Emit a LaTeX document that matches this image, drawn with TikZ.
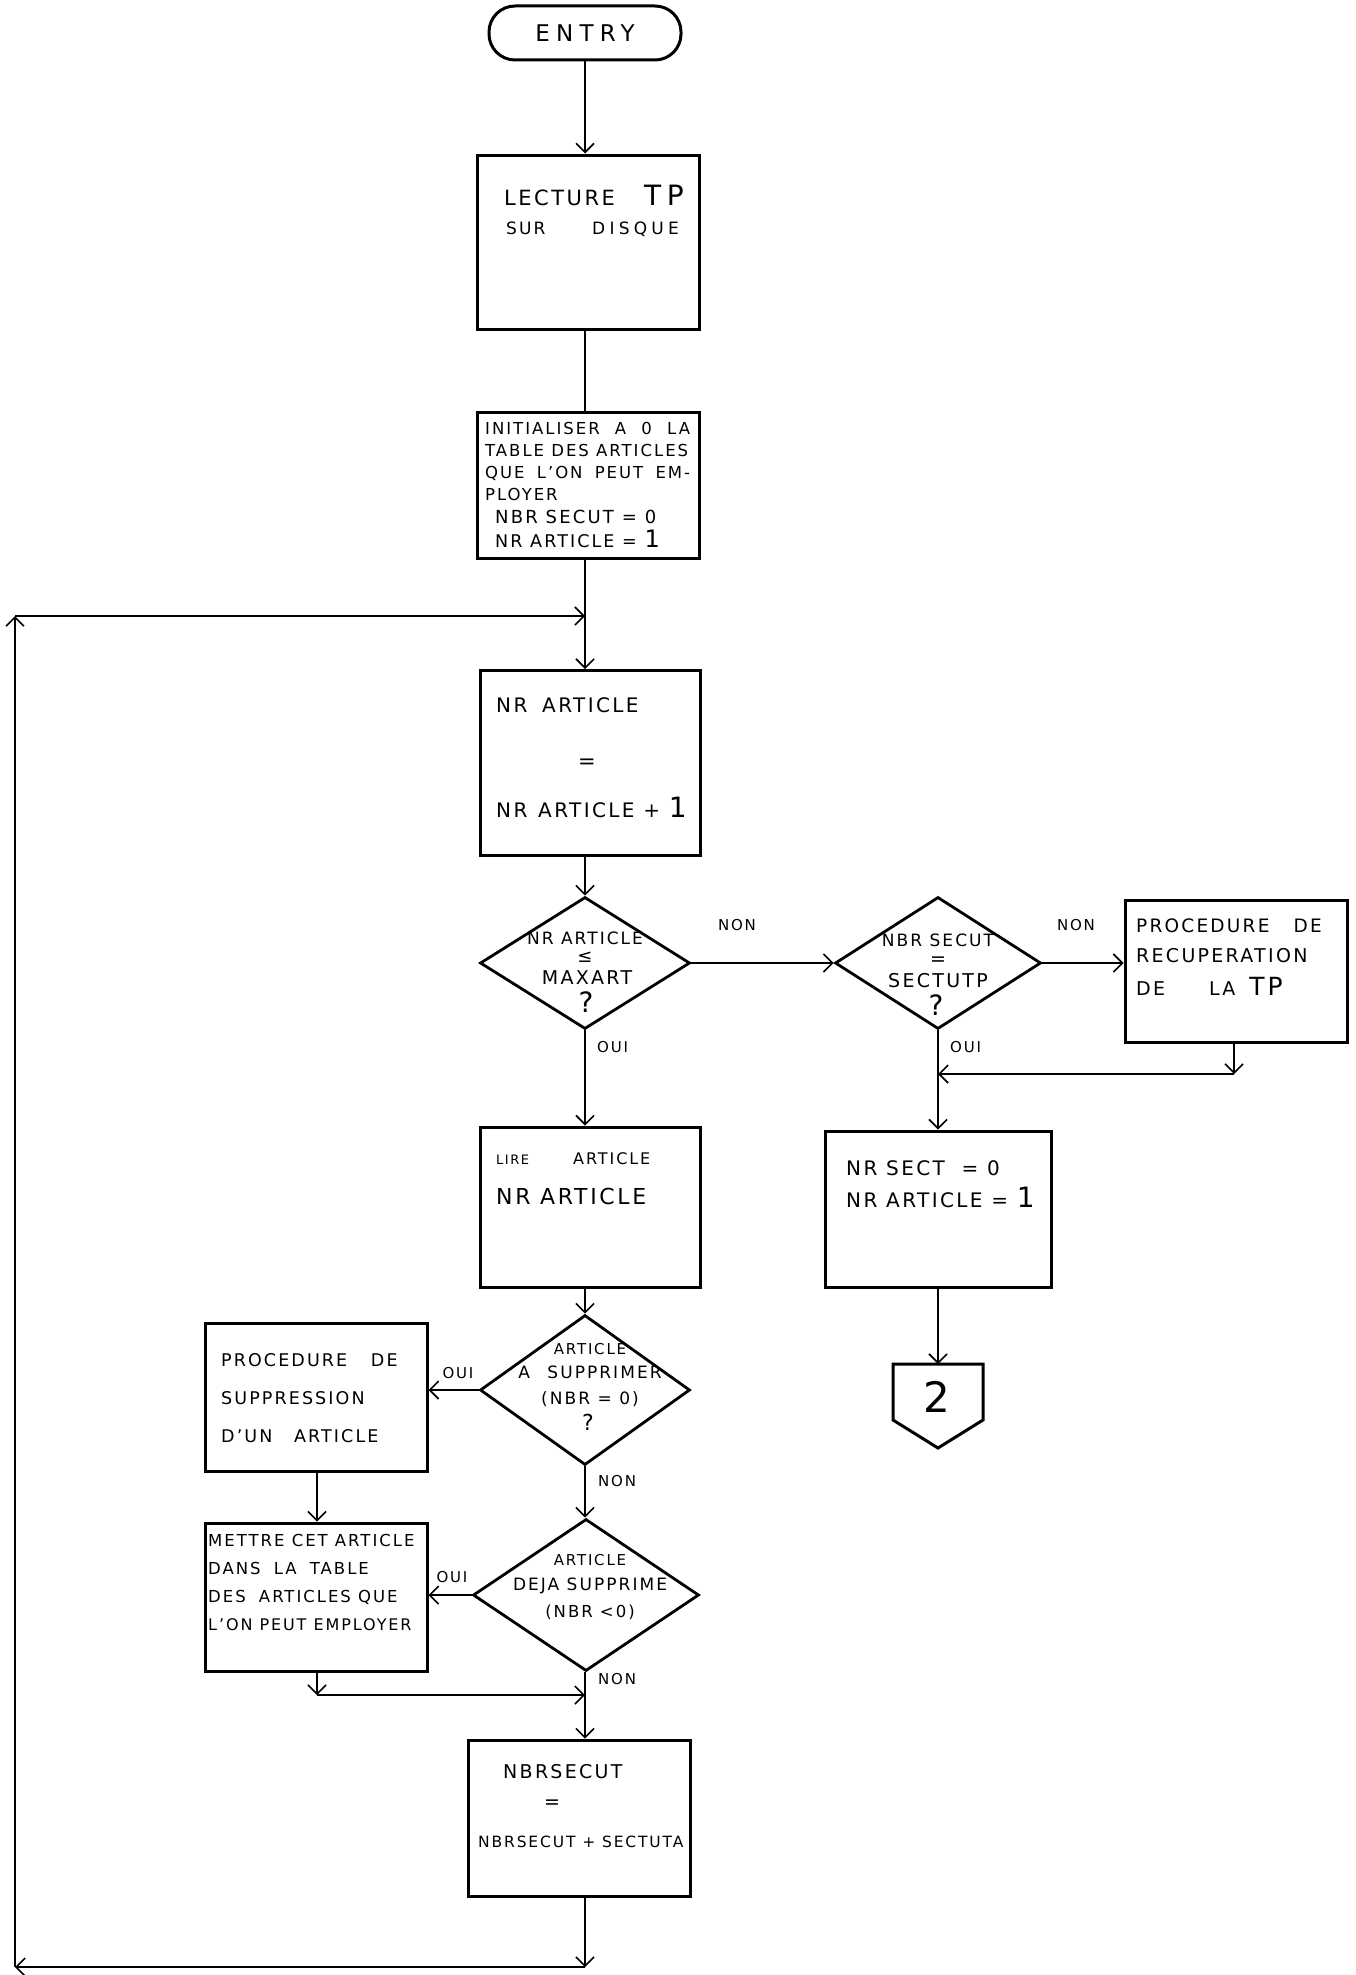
\documentclass[tikz,border=0pt]{standalone}
\usepackage{fontspec}
\setmainfont{DejaVu Sans}[LetterSpace=12]
\usetikzlibrary{shapes.geometric,arrows.meta,calc}
\newcommand{\fs}[1]{\fontsize{#1}{#1}\selectfont}
\newcommand{\lsp}[2]{{\addfontfeatures{LetterSpace=#1}#2}}
\begin{document}
\begin{tikzpicture}[x=1pt,y=-1pt,
  box/.style={draw, line width=3pt, rectangle, inner sep=0pt},
  dia/.style={draw, line width=2.8pt, diamond, inner sep=0pt, aspect=1},
  term/.style={draw, line width=3pt, rectangle, rounded corners=26pt, inner sep=0pt},
  arr/.style={line width=1.6pt, -{Straight Barb[length=9pt,width=18pt,line width=1.6pt]}},
  ln/.style={line width=1.6pt},
  tw/.style={anchor=base west, inner sep=0pt},
  tc/.style={anchor=base, inner sep=0pt},
]
\useasboundingbox (0,0) rectangle (1356,1975);

% ---- shapes
\node[term, minimum width=192pt, minimum height=54pt, font=\fs{23}] (entry) at (585,33) {\lsp{27}{ENTRY}};
\node[box, minimum width=222pt, minimum height=174pt] (lect) at (588,242) {};
\node[box, minimum width=222pt, minimum height=146pt] (init) at (588,485) {};
\node[box, minimum width=220pt, minimum height=185pt] (nra) at (590,763) {};
\node[dia, minimum width=210pt, minimum height=132pt] (d1) at (585,963) {};
\node[dia, minimum width=206pt, minimum height=132pt] (d2) at (938,963) {};
\node[box, minimum width=222pt, minimum height=142pt] (recup) at (1236,971) {};
\node[box, minimum width=226pt, minimum height=156pt] (nrsect) at (938,1209) {};
\node[box, minimum width=220pt, minimum height=160pt] (lire) at (590,1207) {};
\node[dia, minimum width=210pt, minimum height=150pt] (d3) at (585,1390) {};
\node[box, minimum width=222pt, minimum height=148pt] (supp) at (316,1397) {};
\node[box, minimum width=222pt, minimum height=148pt] (mettre) at (316,1597) {};
\node[dia, minimum width=226pt, minimum height=152pt] (d4) at (586,1595) {};
\node[box, minimum width=222pt, minimum height=156pt] (nbrs) at (579,1818) {};
\coordinate (p2) at (938,1364);
\draw[line width=3pt] (893,1364) -- (983,1364) -- (983,1420) -- (938,1448) -- (893,1420) -- cycle;
\node[tc, font=\fs{42}] (two) at (937,1412) {2};

% ---- texts
\node[tw, font=\fs{21}] (tl1) at (504,205) {LECTURE};
\node[tw, font=\fs{28}] (tl1b) at (644,205) {\lsp{20}{TP}};
\node[tw, font=\fs{17}] (tl2) at (506,234) {SUR};
\node[tw, font=\fs{17}] (tl2b) at (592,234) {\lsp{25}{DISQUE}};

\node[tw, font=\fs{16.5}] (ti1) at (485,434) {INITIALISER\hspace{8pt} A\hspace{8pt} 0\hspace{8pt} LA};
\node[tw, font=\fs{16.5}] (ti2) at (485,456) {TABLE DES ARTICLES};
\node[tw, font=\fs{16.5}] (ti3) at (485,478) {QUE\hspace{5pt} L'ON\hspace{5pt} PEUT\hspace{5pt} EM-};
\node[tw, font=\fs{16.5}] (ti4) at (485,500) {PLOYER};
\node[tw, font=\fs{18}] (ti5) at (495,523) {NBR SECUT = 0};
\node[tw, font=\fs{17.5}] (ti6) at (495,547) {NR ARTICLE = {\fs{24}1}};

\node[tw, font=\fs{20}] (tn1) at (496,712) {NR\hspace{6pt} ARTICLE};
\node[tc, font=\fs{21}] (tn2) at (587,768) {=};
\node[tw, font=\fs{20}] (tn3) at (496,817) {NR\hspace{2pt} ARTICLE + {\fs{28}1}};

\node[tc, font=\fs{17}] (t11) at (585,944) {NR ARTICLE};
\node[tc, font=\fs{18}] (t12) at (585,962) {≤};
\node[tc, font=\fs{19}] (t13) at (587,984) {MAXART};
\node[tc, font=\fs{28}] (t14) at (586,1012) {?};

\node[tc, font=\fs{17}] (t21) at (938,946) {NBR SECUT};
\node[tc, font=\fs{19}] (t22) at (938,965) {=};
\node[tc, font=\fs{19}] (t23) at (938,987) {SECTUTP};
\node[tc, font=\fs{28}] (t24) at (936,1015) {?};

\node[tc, font=\fs{15}] (non1) at (737,930) {NON};
\node[tc, font=\fs{15}] (non2) at (1076,930) {NON};
\node[tw, font=\fs{15}] (oui1) at (597,1052) {OUI};
\node[tw, font=\fs{15}] (oui2) at (950,1052) {OUI};

\node[tw, font=\fs{18.5}] (tr1) at (1136,932) {PROCEDURE\hspace{16pt} DE};
\node[tw, font=\fs{19}] (tr2) at (1136,962) {RECUPERATION};
\node[tw, font=\fs{19}] (tr3) at (1136,995) {DE\hspace{44pt}LA\hspace{14pt}{\fs{25}TP}};

\node[tw, font=\fs{20}] (ts1) at (846,1175) {NR SECT\hspace{8pt} = 0};
\node[tw, font=\fs{20}] (ts2) at (846,1207) {NR ARTICLE = {\fs{28}1}};

\node[tw, font=\fs{13}] (tli1) at (496,1164) {LIRE};
\node[tw, font=\fs{16}] (tli1b) at (573,1164) {ARTICLE};
\node[tw, font=\fs{22}] (tli2) at (496,1204) {NR ARTICLE};

\node[tc, font=\fs{15}] (t31) at (590,1354) {ARTICLE};
\node[tc, font=\fs{17}] (t32) at (590,1378) {A\hspace{10pt} SUPPRIMER};
\node[tc, font=\fs{17}] (t33) at (590,1404) {(NBR = 0)};
\node[tc, font=\fs{22}] (t34) at (588,1430) {?};
\node[tc, font=\fs{15}] (oui3) at (458,1378) {OUI};
\node[tw, font=\fs{15}] (non3) at (598,1486) {NON};

\node[tw, font=\fs{17.5}] (tp1) at (221,1366) {PROCEDURE\hspace{16pt} DE};
\node[tw, font=\fs{17.5}] (tp2) at (221,1404) {SUPPRESSION};
\node[tw, font=\fs{17.5}] (tp3) at (221,1442) {D'UN\hspace{14pt} ARTICLE};

\node[tw, font=\fs{16.5}] (tm1) at (208,1546) {METTRE CET ARTICLE};
\node[tw, font=\fs{16.5}] (tm2) at (208,1574) {DANS\hspace{6pt} LA\hspace{6pt} TABLE};
\node[tw, font=\fs{16.5}] (tm3) at (208,1602) {DES\hspace{6pt} ARTICLES QUE};
\node[tw, font=\fs{16}] (tm4) at (208,1630) {L'ON PEUT EMPLOYER};

\node[tc, font=\fs{15}] (t41) at (590,1565) {ARTICLE};
\node[tc, font=\fs{17}] (t42) at (590,1590) {DEJA SUPPRIME};
\node[tc, font=\fs{16.5}] (t43) at (590,1617) {(NBR <0)};
\node[tc, font=\fs{15}] (oui4) at (452,1582) {OUI};
\node[tw, font=\fs{15}] (non4) at (598,1684) {NON};

\node[tw, font=\fs{19}] (tb1) at (503,1778) {NBRSECUT};
\node[tc, font=\fs{19}] (tb2) at (552,1808) {=};
\node[tw, font=\fs{15.5}] (tb3) at (478,1847) {NBRSECUT + SECTUTA};

% ---- coordinates
\coordinate (j1) at (585,616);
\coordinate (lt) at (15,616);
\coordinate (lb) at (15,1967);
\coordinate (rb) at (585,1967);
\coordinate (m1) at (1234,1074);
\coordinate (m2) at (938,1074);
\coordinate (m3) at (317,1695);
\coordinate (m4) at (585,1695);

% ---- connectors
\draw[arr] (entry.south -| 585,0) -- (lect.north -| 585,0);
\draw[ln] (lect.south -| 585,0) -- (init.north -| 585,0);
\draw[arr] (init.south -| 585,0) -- (nra.north -| 585,0);
\draw[arr] (nra.south -| 585,0) -- (d1.north);
\draw[arr] (d1.east) -- (d2.west);
\draw[arr] (d2.east) -- (d2.east -| recup.west);
\draw[arr] (recup.south -| m1) -- (m1);
\draw[arr] (m1) -- (m2);
\draw[arr] (d2.south) -- (nrsect.north);
\draw[arr] (nrsect.south) -- (p2);
\draw[arr] (d1.south) -- (d1.south |- lire.north);
\draw[arr] (lire.south -| 585,0) -- (d3.north);
\draw[arr] (d3.west) -- (d3.west -| supp.east);
\draw[arr] (supp.south -| m3) -- (mettre.north -| m3);
\draw[arr] (d3.south) -- (d4.north -| d3.south);
\draw[arr] (d4.west) -- (d4.west -| mettre.east);
\draw[arr] (mettre.south -| m3) -- (m3);
\draw[arr] (m3) -- (m4);
\draw[arr] (d4.south -| m4) -- (nbrs.north -| m4);
\draw[arr] (nbrs.south -| rb) -- (rb);
\draw[arr] (rb) -- (lb);
\draw[arr] (lb) -- (lt);
\draw[arr] (lt) -- (j1);
\end{tikzpicture}
\end{document}
